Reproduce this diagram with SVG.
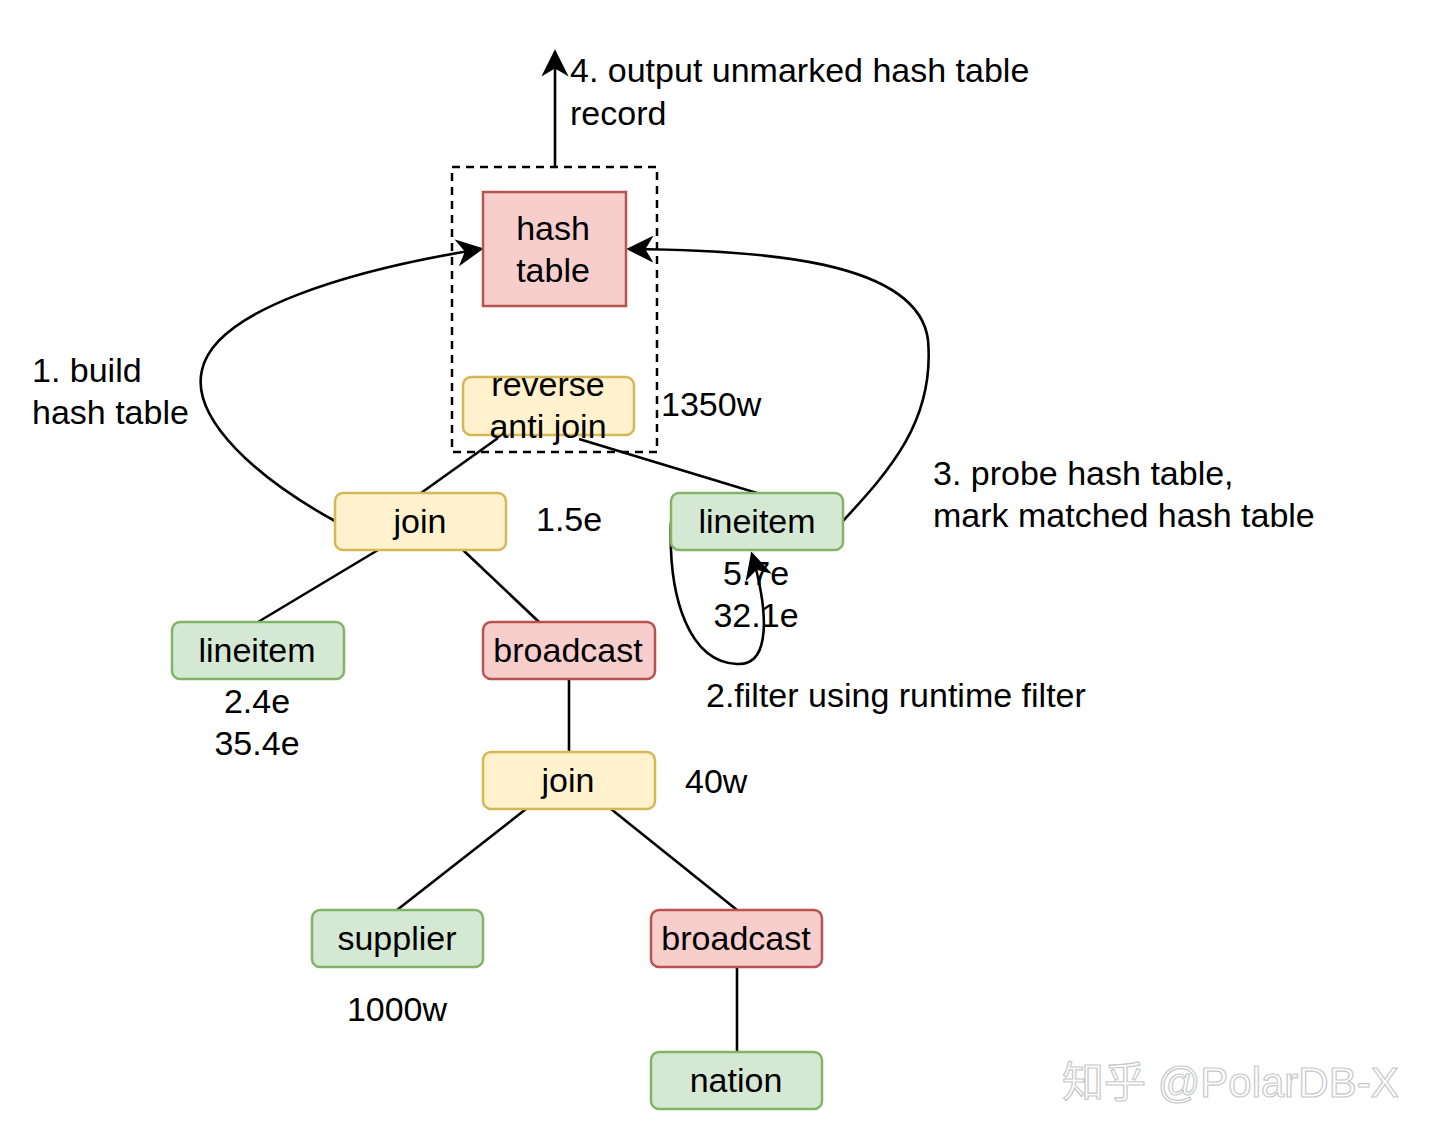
<svg xmlns="http://www.w3.org/2000/svg" width="1440" height="1141" viewBox="0 0 1440 1141">
<style>
  text { font-family: "Liberation Sans", Arial, sans-serif; font-size: 34px; fill: #000; }
  .c { text-anchor: middle; }
  .g { fill: #d5e8d4; stroke: #82b366; stroke-width: 2.5; }
  .y { fill: #fff2cc; stroke: #d6b656; stroke-width: 2.5; }
  .r { fill: #f8cecc; stroke: #b85450; stroke-width: 2.5; }
  .e { fill: none; stroke: #000; stroke-width: 2.6; }
  .wm { font-family: "Liberation Sans", "Noto Sans CJK SC", sans-serif; font-size: 42px; fill: #ffffff; stroke: #c8c8c8; stroke-width: 1.2; }
</style>
<defs>
  <marker id="arr" viewBox="0 0 10 10" refX="9" refY="5" markerWidth="10.5" markerHeight="10.5" orient="auto" markerUnits="strokeWidth">
    <path d="M0,0 L10,5 L0,10 L3,5 z" fill="#000"/>
  </marker>
</defs>
<rect width="1440" height="1141" fill="#ffffff"/>

<g id="connectors">
  <line class="e" x1="555" y1="167" x2="555" y2="52" marker-end="url(#arr)"/>
  <line class="e" x1="421" y1="493" x2="498" y2="438"/>
  <line class="e" x1="579" y1="439" x2="757" y2="493"/>
  <line class="e" x1="378" y1="550" x2="258" y2="622"/>
  <line class="e" x1="463" y1="550" x2="539" y2="622"/>
  <line class="e" x1="569" y1="679" x2="569" y2="752"/>
  <line class="e" x1="526" y1="809" x2="397" y2="910"/>
  <line class="e" x1="611" y1="809" x2="737" y2="910"/>
  <line class="e" x1="737" y1="967" x2="737" y2="1052"/>
  <path class="e" d="M335,521 C260,480 190,420 202,370 C215,310 350,270 481,249" marker-end="url(#arr)"/>
  <path class="e" d="M843,521 C890,470 935,420 928,340 C918,260 760,250 629,249" marker-end="url(#arr)"/>
  <path class="e" d="M671,522 C668,600 690,662 737,664 C772,666 768,610 752,554" marker-end="url(#arr)"/>
</g>

<g id="group-box">
  <rect x="452" y="167" width="205" height="285" fill="none" stroke="#000" stroke-width="2.5" stroke-dasharray="8 6"/>
</g>

<g id="node-hashtable">
  <rect class="r" x="483" y="192" width="143" height="114"/>
  <text class="c" x="553" y="240">hash</text>
  <text class="c" x="553" y="282">table</text>
</g>

<g id="node-reverse-anti-join">
  <rect class="y" x="463" y="377" width="171" height="58" rx="8"/>
  <text class="c" x="548" y="396">reverse</text>
  <text class="c" x="548" y="438">anti join</text>
</g>

<g id="node-join1">
  <rect class="y" x="335" y="493" width="171" height="57" rx="8"/>
  <text class="c" x="420" y="533">join</text>
</g>

<g id="node-lineitem-right">
  <rect class="g" x="671" y="493" width="172" height="57" rx="8"/>
  <text class="c" x="757" y="533">lineitem</text>
</g>

<g id="node-lineitem-left">
  <rect class="g" x="172" y="622" width="172" height="57" rx="8"/>
  <text class="c" x="257" y="662">lineitem</text>
</g>

<g id="node-broadcast1">
  <rect class="r" x="483" y="622" width="172" height="57" rx="8"/>
  <text class="c" x="568" y="662">broadcast</text>
</g>

<g id="node-join2">
  <rect class="y" x="483" y="752" width="172" height="57" rx="8"/>
  <text class="c" x="568" y="792">join</text>
</g>

<g id="node-supplier">
  <rect class="g" x="312" y="910" width="171" height="57" rx="8"/>
  <text class="c" x="397" y="950">supplier</text>
</g>

<g id="node-broadcast2">
  <rect class="r" x="651" y="910" width="171" height="57" rx="8"/>
  <text class="c" x="736" y="950">broadcast</text>
</g>

<g id="node-nation">
  <rect class="g" x="651" y="1052" width="171" height="57" rx="8"/>
  <text class="c" x="736" y="1092">nation</text>
</g>

<g id="labels">
  <text x="570" y="82">4. output unmarked hash table</text>
  <text x="570" y="125">record</text>
  <text x="32" y="382">1. build</text>
  <text x="32" y="424">hash table</text>
  <text x="933" y="485">3. probe hash table,</text>
  <text x="933" y="527">mark matched hash table</text>
  <text x="661" y="416">1350w</text>
  <text x="536" y="531">1.5e</text>
  <text class="c" x="756" y="585">5.7e</text>
  <text class="c" x="756" y="627">32.1e</text>
  <text class="c" x="257" y="713">2.4e</text>
  <text class="c" x="257" y="755">35.4e</text>
  <text x="706" y="707">2.filter using runtime filter</text>
  <text x="685" y="793">40w</text>
  <text class="c" x="397" y="1021">1000w</text>
</g>

<g id="watermark">
  <text class="wm" x="1062" y="1097">知乎 @PolarDB-X</text>
</g>
</svg>
